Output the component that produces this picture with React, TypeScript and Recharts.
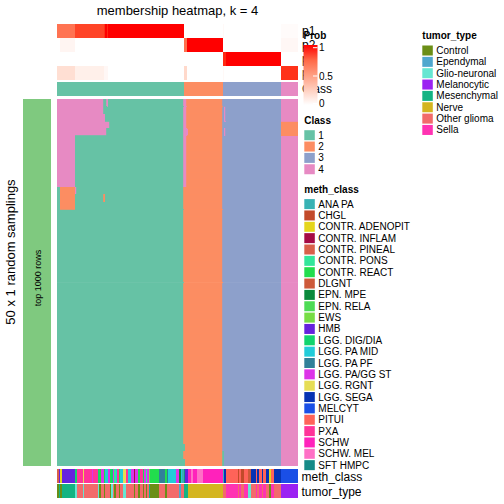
import React from 'react';
import { BarChart, Bar, XAxis, YAxis, Cell } from 'recharts';

const font = '"Liberation Sans", Arial, Helvetica, sans-serif';

// consensus classes, columns ordered by class
const classLabels = ['1', '2', '3', '4'];
const classColors = ['#66C2A5', '#FC8D62', '#8DA0CB', '#E78AC3'];
const classSizes = [84, 26, 39, 11];
const nSamples = 160;

// membership probabilities, run-length [prob, nColumns]
const probRows = ['p1', 'p2', 'p3', 'p4'];
const p1Runs: [number, number][] = [[0.7, 12], [0.88, 19], [0.93, 1], [1, 1], [0.95, 1], [1, 50], [0, 26], [0.03, 1], [0, 38], [0.02, 11]];
const p2Runs: [number, number][] = [[0, 2], [0.05, 10], [0, 72], [0.72, 2], [1, 24], [0, 39], [0.04, 11]];
const p3Runs: [number, number][] = [[0, 110], [0.95, 2], [1, 37], [0, 11]];
const p4Runs: [number, number][] = [[0.17, 12], [0.08, 19], [0.04, 3], [0, 50], [0.2, 2], [0, 24], [0.03, 1], [0, 38], [0.93, 11]];

// 50 random samplings, run-length [class, nColumns]
const stableRow: [number, number][] = [[1, 84], [2, 26], [3, 39], [4, 11]];
const pinkLeftRow: [number, number][] = [[4, 12], [1, 72], [4, 2], [2, 24], [3, 39], [4, 11]];
const samplingRuns: [number, number][][] = [
  [[4, 31], [1, 2], [4, 1], [1, 50], [4, 2], [2, 24], [3, 39], [4, 11]],
  [[4, 31], [1, 53], [4, 2], [2, 24], [3, 1], [4, 1], [3, 37], [4, 11]],
  [[4, 32], [1, 52], [4, 2], [2, 24], [3, 1], [4, 1], [3, 37], [4, 11]],
  [[4, 35], [1, 49], [4, 2], [2, 24], [3, 39], [2, 11]],
  [[4, 33], [1, 51], [4, 3], [2, 23], [3, 1], [4, 1], [3, 37], [2, 11]],
  ...Array(7).fill(pinkLeftRow),
  [[1, 2], [2, 10], [4, 1], [1, 71], [2, 26], [3, 39], [4, 11]],
  [[1, 2], [2, 10], [1, 19], [2, 1], [1, 52], [2, 26], [3, 39], [4, 11]],
  [[1, 2], [2, 10], [1, 72], [2, 26], [3, 39], [4, 11]],
  ...Array(32).fill(stableRow),
  [[1, 85], [2, 25], [3, 39], [4, 11]],
  [[1, 84], [2, 26], [1, 1], [3, 38], [4, 11]],
  [[1, 85], [2, 25], [1, 1], [3, 38], [4, 11]],
];

const methClasses = ['ANA PA', 'CHGL', 'CONTR. ADENOPIT', 'CONTR. INFLAM', 'CONTR. PINEAL', 'CONTR. PONS', 'CONTR. REACT', 'DLGNT', 'EPN. MPE', 'EPN. RELA', 'EWS', 'HMB', 'LGG. DIG/DIA', 'LGG. PA MID', 'LGG. PA PF', 'LGG. PA/GG ST', 'LGG. RGNT', 'LGG. SEGA', 'MELCYT', 'PITUI', 'PXA', 'SCHW', 'SCHW. MEL', 'SFT HMPC'];
const methColors = ['#38B2B4', '#C24A2A', '#E5D51C', '#A50A45', '#D9604A', '#33E69A', '#22DD4D', '#CD5A3A', '#0B8A3C', '#4DDB55', '#77DD44', '#6622DD', '#11D46E', '#22CCD9', '#318099', '#DD33E8', '#E6DD55', '#0733B3', '#1A4FE6', '#FF6359', '#FF3399', '#FF22BB', '#FF70C6', '#168B88'];
const methRuns: [string, number][] = [
  ['CONTR. PINEAL', 1], ['HMB', 1], ['CONTR. ADENOPIT', 1], ['HMB', 9], ['LGG. DIG/DIA', 1], ['PXA', 4], ['LGG. RGNT', 1], ['PXA', 5], ['LGG. PA/GG ST', 1], ['PXA', 3],
  ['LGG. DIG/DIA', 1], ['CONTR. REACT', 1], ['LGG. PA/GG ST', 2], ['CONTR. REACT', 1], ['LGG. PA MID', 2], ['LGG. PA/GG ST', 1], ['CONTR. REACT', 1], ['LGG. DIG/DIA', 1],
  ['LGG. PA/GG ST', 1], ['CONTR. PONS', 1], ['LGG. PA MID', 1], ['PXA', 1], ['CONTR. REACT', 1], ['LGG. PA MID', 2], ['LGG. RGNT', 2], ['PXA', 1], ['LGG. PA MID', 2],
  ['LGG. PA/GG ST', 2], ['CONTR. INFLAM', 1], ['LGG. PA/GG ST', 2], ['CONTR. REACT', 1], ['PXA', 2], ['CONTR. REACT', 1], ['LGG. PA/GG ST', 1], ['CONTR. PONS', 1],
  ['LGG. PA/GG ST', 1], ['EWS', 1], ['CONTR. REACT', 6], ['LGG. PA PF', 4], ['CONTR. REACT', 1], ['LGG. PA PF', 1], ['LGG. PA MID', 5], ['LGG. PA/GG ST', 2],
  ['EPN. MPE', 1], ['LGG. PA MID', 1], ['ANA PA', 1],
  ['SFT HMPC', 1], ['HMB', 2], ['SCHW', 2], ['SCHW. MEL', 1], ['SCHW', 3], ['SCHW. MEL', 4], ['SCHW', 13],
  ['ANA PA', 1], ['LGG. SEGA', 1], ['PITUI', 8], ['CHGL', 1], ['PITUI', 1], ['CHGL', 2], ['PITUI', 3], ['DLGNT', 2], ['LGG. SEGA', 3], ['PITUI', 1], ['LGG. SEGA', 1],
  ['PITUI', 2], ['LGG. SEGA', 1], ['PITUI', 2], ['LGG. SEGA', 2], ['CONTR. ADENOPIT', 1], ['PITUI', 2], ['LGG. SEGA', 5],
  ['MELCYT', 11],
];

const tumorTypes = ['Control', 'Ependymal', 'Glio-neuronal', 'Melanocytic', 'Mesenchymal', 'Nerve', 'Other glioma', 'Sella'];
const tumorColors = ['#6B8E16', '#4FA7CE', '#66E6D2', '#9B22F2', '#14B382', '#D4B520', '#F26B6B', '#FF33B2'];
const tumorRuns: [string, number][] = [
  ['Control', 1], ['Mesenchymal', 1], ['Control', 1], ['Mesenchymal', 9], ['Glio-neuronal', 1], ['Other glioma', 4], ['Glio-neuronal', 1], ['Other glioma', 9],
  ['Glio-neuronal', 1], ['Control', 1], ['Other glioma', 2], ['Control', 1], ['Other glioma', 3], ['Control', 1], ['Glio-neuronal', 1], ['Other glioma', 1],
  ['Control', 1], ['Other glioma', 2], ['Control', 1], ['Other glioma', 2], ['Glio-neuronal', 2], ['Other glioma', 5], ['Control', 1], ['Other glioma', 2],
  ['Control', 1], ['Other glioma', 2], ['Control', 1], ['Other glioma', 1], ['Control', 1], ['Other glioma', 1], ['Mesenchymal', 1], ['Control', 6],
  ['Other glioma', 4], ['Control', 1], ['Other glioma', 8], ['Ependymal', 1], ['Other glioma', 2],
  ['Mesenchymal', 3], ['Nerve', 23],
  ['Other glioma', 2], ['Sella', 8], ['Other glioma', 1], ['Sella', 1], ['Other glioma', 2], ['Sella', 3], ['Glio-neuronal', 2], ['Other glioma', 3], ['Sella', 1],
  ['Other glioma', 1], ['Sella', 2], ['Other glioma', 1], ['Sella', 2], ['Other glioma', 2], ['Control', 1], ['Sella', 2], ['Other glioma', 5],
  ['Melanocytic', 11],
];

// white -> red ramp interpolated in LAB (like colorRamp2)
const toLin = (c: number) => { c /= 255; return c <= 0.04045 ? c / 12.92 : Math.pow((c + 0.055) / 1.055, 2.4); };
const fromLin = (c: number) => {
  const v = c <= 0.0031308 ? 12.92 * c : 1.055 * Math.pow(c, 1 / 2.4) - 0.055;
  return Math.round(Math.max(0, Math.min(1, v)) * 255);
};
function rgbToLab([r, g, b]: number[]) {
  const R = toLin(r), G = toLin(g), B = toLin(b);
  const X = (0.4124 * R + 0.3576 * G + 0.1805 * B) / 0.95047;
  const Y = 0.2126 * R + 0.7152 * G + 0.0722 * B;
  const Z = (0.0193 * R + 0.1192 * G + 0.9505 * B) / 1.08883;
  const f = (t: number) => (t > 0.008856 ? Math.cbrt(t) : 7.787 * t + 16 / 116);
  return [116 * f(Y) - 16, 500 * (f(X) - f(Y)), 200 * (f(Y) - f(Z))];
}
function labToHex([L, a, b]: number[]) {
  const fy = (L + 16) / 116, fx = fy + a / 500, fz = fy - b / 200;
  const inv = (t: number) => (t * t * t > 0.008856 ? t * t * t : (t - 16 / 116) / 7.787);
  const X = inv(fx) * 0.95047, Y = inv(fy), Z = inv(fz) * 1.08883;
  const r = fromLin(3.2406 * X - 1.5372 * Y - 0.4986 * Z);
  const g = fromLin(-0.9689 * X + 1.8758 * Y + 0.0415 * Z);
  const bl = fromLin(0.0557 * X - 0.204 * Y + 1.057 * Z);
  return '#' + [r, g, bl].map(v => v.toString(16).padStart(2, '0')).join('');
}
const labWhite = rgbToLab([255, 255, 255]);
const labRed = rgbToLab([255, 0, 0]);
const probColor = (v: number) => labToHex(labWhite.map((w, i) => w + (labRed[i] - w) * v));

type Seg = { color: string; count: number };

const StripChart = ({ rows, width, height, seal = false }: { rows: Seg[][]; width: number; height: number; seal?: boolean }) => {
  const maxRuns = Math.max(...rows.map(r => r.length));
  const data = rows.map((r, i) => {
    const d: Record<string, number> = { row: i };
    for (let k = 0; k < maxRuns; k++) d['s' + k] = r[k] ? r[k].count : 0;
    return d;
  });
  // a hair under the band: recharts shrinks bars to 90% when barSize >= band
  const rowSize = height / rows.length - 0.0001;
  return (
    <BarChart layout="vertical" width={width} height={height} data={data} barSize={rowSize}
      margin={{ top: 0, right: 0, bottom: 0, left: 0 }} barCategoryGap={0} barGap={0}>
      <XAxis type="number" domain={[0, nSamples]} allowDataOverflow hide />
      <YAxis type="category" dataKey="row" hide />
      {Array.from({ length: maxRuns }, (_, k) => (
        <Bar key={k} dataKey={'s' + k} stackId="a" isAnimationActive={false}>
          {rows.map((r, i) => (
            <Cell key={i} fill={r[k] ? r[k].color : 'none'}
              stroke={seal && r[k] ? r[k].color : 'none'} strokeWidth={seal ? 0.8 : 0} />
          ))}
        </Bar>
      ))}
    </BarChart>
  );
};

const probSegs = [p1Runs, p2Runs, p3Runs, p4Runs].map(runs => runs.map(([v, n]) => ({ color: probColor(v), count: n })));
const classSegs = [classSizes.map((n, i) => ({ color: classColors[i], count: n }))];
const mainSegs = samplingRuns.map(r => r.map(([c, n]) => ({ color: classColors[c - 1], count: n })));
const methSegs = [methRuns.map(([m, n]) => ({ color: methColors[methClasses.indexOf(m)], count: n }))];
const tumorSegs = [tumorRuns.map(([t, n]) => ({ color: tumorColors[tumorTypes.indexOf(t)], count: n }))];

const Legend = ({ x, y, title, labels, colors }: { x: number; y: number; title: string; labels: string[]; colors: string[] }) => (
  <g>
    <text x={x} y={y} fontSize={10} fontWeight="bold">{title}</text>
    {labels.map((l, i) => (
      <g key={l}>
        <rect x={x} y={y + 6.5 + i * 11.35} width={10.5} height={10} fill={colors[i]} />
        <text x={x + 14} y={y + 15 + i * 11.35} fontSize={10}>{l}</text>
      </g>
    ))}
  </g>
);

const box = (left: number, top: number): React.CSSProperties => ({ position: 'absolute', left, top });

export default function App() {
  return (
    <div style={{ position: 'absolute', left: 0, top: 0, width: 504, height: 504, background: '#fff', fontFamily: font }}>
      <style>{'.recharts-rectangle { shape-rendering: crispEdges; }'}</style>
      <div style={box(57, 24)}><StripChart rows={probSegs} width={241} height={56} /></div>
      <div style={box(57, 82)}><StripChart rows={classSegs} width={241} height={14} /></div>
      <div style={box(57, 99)}><StripChart rows={mainSegs} width={241} height={367} seal /></div>
      <div style={box(57, 469)}><StripChart rows={methSegs} width={241} height={14} /></div>
      <div style={box(57, 484)}><StripChart rows={tumorSegs} width={241} height={14.5} /></div>
      <svg width={504} height={504} style={{ position: 'absolute', left: 0, top: 0 }} fontFamily={font}>
        <defs>
          <linearGradient id="probGrad" x1="0" y1="0" x2="0" y2="1">
            {[1, 0.75, 0.5, 0.25, 0].map((v, i) => (
              <stop key={i} offset={`${i * 25}%`} stopColor={probColor(v)} />
            ))}
          </linearGradient>
        </defs>
        <text x={177.5} y={14.5} fontSize={13} textAnchor="middle">membership heatmap, k = 4</text>
        <text transform="translate(15.3,252) rotate(-90)" fontSize={13} textAnchor="middle">50 x 1 random samplings</text>
        <rect x={23} y={99} width={28} height={367} fill="#7FC97F" />
        <text transform="translate(40.5,278) rotate(-90)" fontSize={9} textAnchor="middle">top 1000 rows</text>

        {probRows.map((p, i) => (
          <text key={p} x={302} y={35.2 + i * 14} fontSize={12}>{p}</text>
        ))}
        <text x={302} y={93.2} fontSize={12}>Class</text>
        <text x={301.5} y={480.5} fontSize={12}>meth_class</text>
        <text x={301.5} y={495.5} fontSize={12}>tumor_type</text>

        <text x={303.5} y={39} fontSize={10} fontWeight="bold">Prob</text>
        <rect x={303.5} y={45} width={14} height={60} fill="url(#probGrad)" />
        {[47.7, 76, 103.5].map(t => (
          <line key={t} x1={313} x2={317.5} y1={t} y2={t} stroke="#fff" strokeWidth={1} />
        ))}
        <text x={319} y={51} fontSize={10}>1</text>
        <text x={319} y={79.5} fontSize={10}>0.5</text>
        <text x={319} y={107} fontSize={10}>0</text>

        <Legend x={304.3} y={123.7} title="Class" labels={classLabels} colors={classColors} />
        <Legend x={304.3} y={192.6} title="meth_class" labels={methClasses} colors={methColors} />
        <Legend x={422.3} y={39} title="tumor_type" labels={tumorTypes} colors={tumorColors} />
      </svg>
    </div>
  );
}
